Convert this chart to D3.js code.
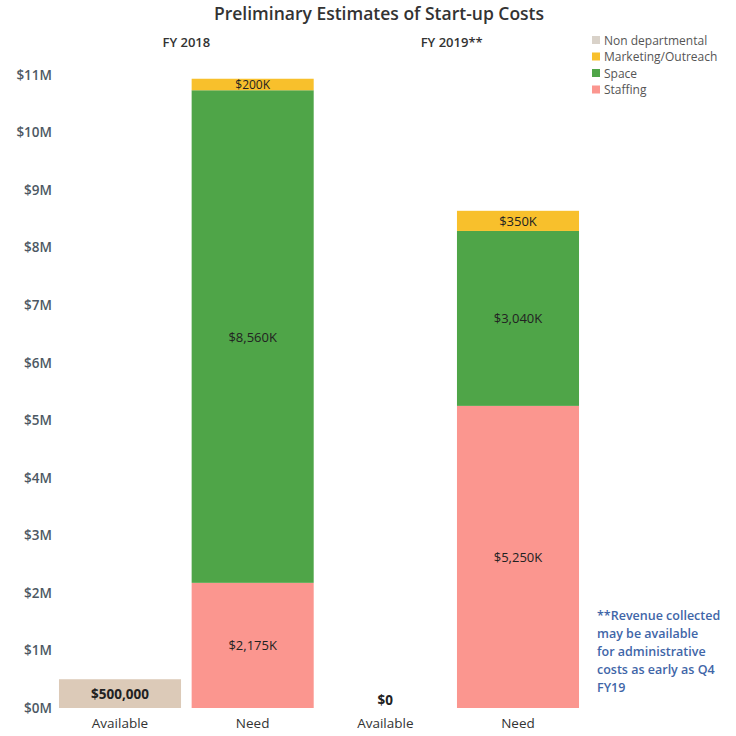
<!DOCTYPE html>
<meta charset="utf-8">
<style>
    body { margin: 0; background: #fff; }
    text { font-family: "Open Sans", "DejaVu Sans", sans-serif; }
</style>
<svg width="736" height="736"></svg>
<script src="https://d3js.org/d3.v7.min.js"></script>
<script>
    // values in $K
    var columns = ["FY2018 Available", "FY2018 Need", "FY2019 Available", "FY2019 Need"];
    var columnLabels = ["Available", "Need", "Available", "Need"];
    var years = ["FY 2018", "FY 2019**"];
    var segments = ["Staffing", "Space", "Marketing/Outreach", "Non departmental"];
    var available = [500, 0, 0, 0];
    var staffing = [0, 2175, 0, 5250];
    var space = [0, 8560, 0, 3040];
    var marketing = [0, 200, 0, 350];
    var nondept = [0, 0, 0, 0];
    var legendItems = ["Non departmental", "Marketing/Outreach", "Space", "Staffing"];
    var yTicks = [0, 1, 2, 3, 4, 5, 6, 7, 8, 9, 10, 11];
    var note = ["**Revenue collected", "may be available", "for administrative", "costs as early as Q4", "FY19"];

    var colors = {
        "Available": "#dccab8",
        "Staffing": "#fb968f",
        "Space": "#4fa548",
        "Marketing/Outreach": "#f8c02c",
        "Non departmental": "#d9d2c9"
    };

    var svg = d3.select("svg");

    var x = d3.scaleBand()
        .domain(columns)
        .range([55, 583])
        .paddingInner(0.08)
        .paddingOuter(0.03);

    var y = d3.scaleLinear()
        .domain([0, 11000])
        .range([708, 75]);

    svg.append("text")
        .attr("x", 379).attr("y", 20)
        .attr("text-anchor", "middle")
        .attr("font-size", 17.5)
        .attr("font-weight", 600)
        .attr("fill", "#333")
        .text("Preliminary Estimates of Start-up Costs");

    years.forEach(function (yr, i) {
        var a = x(columns[i * 2]), b = x(columns[i * 2 + 1]) + x.bandwidth();
        svg.append("text")
            .attr("x", (a + b) / 2).attr("y", 47)
            .attr("text-anchor", "middle")
            .attr("font-size", 13)
            .attr("font-weight", 600)
            .attr("fill", "#333")
            .text(yr);
    });

    // y axis
    var yAxis = svg.append("g")
        .attr("transform", "translate(52,0)")
        .call(d3.axisLeft(y)
            .tickValues(yTicks.map(function (d) { return d * 1000; }))
            .tickSize(0)
            .tickPadding(0)
            .tickFormat(function (d) { return "$" + d / 1000 + "M"; }));
    yAxis.select(".domain").remove();
    yAxis.selectAll("text")
        .attr("font-size", 13.5)
        .attr("font-weight", 600)
        .attr("fill", "#4d5863");

    // stacked data
    var rows = columns.map(function (c, i) {
        return {
            col: c,
            "Staffing": staffing[i],
            "Space": space[i],
            "Marketing/Outreach": marketing[i],
            "Non departmental": nondept[i]
        };
    });
    var stack = d3.stack().keys(segments)(rows);

    // available bars
    svg.append("g").selectAll("rect")
        .data(columns.map(function (c, i) { return { col: c, v: available[i] }; }))
        .enter().append("rect")
        .attr("x", function (d) { return x(d.col); })
        .attr("width", x.bandwidth())
        .attr("y", function (d) { return y(d.v); })
        .attr("height", function (d) { return y(0) - y(d.v); })
        .attr("fill", colors["Available"]);

    svg.append("g").selectAll("text")
        .data(columns.map(function (c, i) { return { col: c, v: available[i] }; })
            .filter(function (d) { return d.col.indexOf("Available") >= 0; }))
        .enter().append("text")
        .attr("x", function (d) { return x(d.col) + x.bandwidth() / 2; })
        .attr("y", function (d) { return d.v > 0 ? (y(d.v) + y(0)) / 2 + 5 : y(0) - 3; })
        .attr("text-anchor", "middle")
        .attr("font-size", 13.5)
        .attr("font-weight", 700)
        .attr("fill", "#222")
        .text(function (d) { return "$" + d3.format(",")(d.v * 1000); });

    // stacked segments
    var layer = svg.append("g").selectAll("g")
        .data(stack)
        .enter().append("g")
        .attr("fill", function (d) { return colors[d.key]; });

    layer.selectAll("rect")
        .data(function (d) { return d.filter(function (p) { return p[1] > p[0]; }); })
        .enter().append("rect")
        .attr("x", function (d) { return x(d.data.col); })
        .attr("width", x.bandwidth())
        .attr("y", function (d) { return y(d[1]); })
        .attr("height", function (d) { return y(d[0]) - y(d[1]); });

    layer.selectAll("text")
        .data(function (d) { return d.filter(function (p) { return p[1] > p[0]; }); })
        .enter().append("text")
        .attr("x", function (d) { return x(d.data.col) + x.bandwidth() / 2; })
        .attr("y", function (d) { return (y(d[0]) + y(d[1])) / 2 + 5; })
        .attr("text-anchor", "middle")
        .attr("font-size", function (d) { return y(d[0]) - y(d[1]) < 20 ? 12 : 13; })
        .attr("fill", "#222")
        .text(function (d) { return "$" + d3.format(",")(d[1] - d[0]) + "K"; });

    // column labels
    svg.append("g").selectAll("text")
        .data(columns)
        .enter().append("text")
        .attr("x", function (d) { return x(d) + x.bandwidth() / 2; })
        .attr("y", 728)
        .attr("text-anchor", "middle")
        .attr("font-size", 13.5)
        .attr("fill", "#333")
        .text(function (d, i) { return columnLabels[i]; });

    // legend
    var legend = svg.append("g").attr("transform", "translate(592,36)");
    legend.selectAll("rect")
        .data(legendItems)
        .enter().append("rect")
        .attr("x", 0)
        .attr("y", function (d, i) { return i * 16.5; })
        .attr("width", 8).attr("height", 8)
        .attr("fill", function (d) { return colors[d]; });
    legend.selectAll("text")
        .data(legendItems)
        .enter().append("text")
        .attr("x", 12)
        .attr("y", function (d, i) { return i * 16.5 + 8.5; })
        .attr("font-size", 12)
        .attr("fill", "#555")
        .text(function (d) { return d; });

    // note
    svg.append("g").selectAll("text")
        .data(note)
        .enter().append("text")
        .attr("x", 597)
        .attr("y", function (d, i) { return 620 + i * 18; })
        .attr("font-size", 12.5)
        .attr("font-weight", 600)
        .attr("fill", "#3f66a8")
        .text(function (d) { return d; });
</script>
